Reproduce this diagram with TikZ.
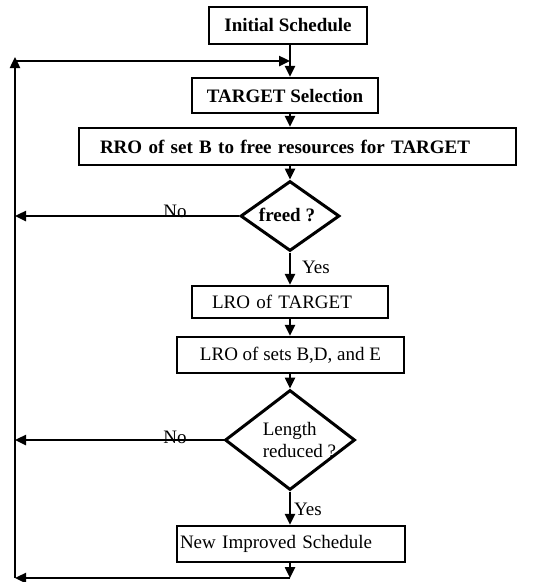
\documentclass[tikz,border=0pt]{standalone}
\usepackage{fontspec}
\setmainfont{Liberation Serif}
\usetikzlibrary{shapes.geometric,arrows.meta}
\begin{document}
\begin{tikzpicture}[x=1pt,y=-1pt,
  box/.style={draw,line width=2.4pt,inner sep=0pt,font=\fontsize{19}{21}\selectfont},
  dec/.style={draw,diamond,line width=3pt,inner sep=0pt},
  lbl/.style={inner sep=0pt,font=\fontsize{19}{22}\selectfont},
  conn/.style={line width=2.4pt,-{Triangle[length=11pt,width=10pt]}},
  plain/.style={line width=2.4pt}]
\useasboundingbox (0,0) rectangle (552,582);
\coordinate (jn) at (290,61);
\coordinate (tl) at (15,61);
\coordinate (bl) at (15,578);
\coordinate (br) at (290,578);

\node[box,minimum width=158,minimum height=37,font=\fontsize{19}{21}\selectfont\bfseries] (init) at (288,25.5) {Initial Schedule};
\node[box,minimum width=186,minimum height=35,font=\fontsize{19}{21}\selectfont\bfseries] (tsel) at (285,95.5) {TARGET Selection};
\node[box,minimum width=437,minimum height=37,inner xsep=21pt,text width=395pt,align=left,font=\fontsize{19}{21}\selectfont\bfseries] (rro) at (297.5,146.5) {RRO of set B to free resources for TARGET};
\node[dec,minimum width=99,minimum height=70] (freed) at (290,216) {};
\node[lbl,font=\fontsize{19}{21}\selectfont\bfseries] (freedt) at (287,215) {freed ?};
\node[box,minimum width=196,minimum height=32,inner xsep=20pt,text width=156pt,align=left] (lrot) at (290,302) {LRO of TARGET};
\node[box,minimum width=227,minimum height=36] (lrosets) at (290.5,355) {LRO of sets B,D, and E};
\node[dec,minimum width=130,minimum height=100] (len) at (290,440) {};
\node[lbl,align=left] (lent) at (299.5,440) {Length\\reduced ?};
\node[box,minimum width=228,minimum height=36,inner xsep=3pt,text width=222pt,align=left] (newimp) at (291,544) {New Improved Schedule};

\draw[conn] (init.south -| jn) -- (tsel.north -| jn);
\draw[conn] (tsel.south -| jn) -- (rro.north -| jn);
\draw[conn] (rro.south -| jn) -- (freed.north);
\draw[conn] (freed.south) -- (lrot.north -| jn);
\draw[conn] (lrot.south -| jn) -- (lrosets.north -| jn);
\draw[conn] (lrosets.south -| jn) -- (len.north);
\draw[conn] (len.south) -- (newimp.north -| jn);
\draw[conn] (newimp.south -| jn) -- (br);
\draw[conn] (br) -- (bl);
\draw[conn] (bl) -- ([yshift=4pt]tl);
\draw[conn] (tl) -- (jn);
\draw[conn] (freed.west) -- (freed.west -| tl);
\draw[conn] (len.west) -- (len.west -| tl);

\node[lbl] (no1) at (175,211) {No};
\node[lbl] (no2) at (175,437) {No};
\node[lbl] (yes1) at (316,267) {Yes};
\node[lbl] (yes2) at (308,509) {Yes};
\end{tikzpicture}
\end{document}
